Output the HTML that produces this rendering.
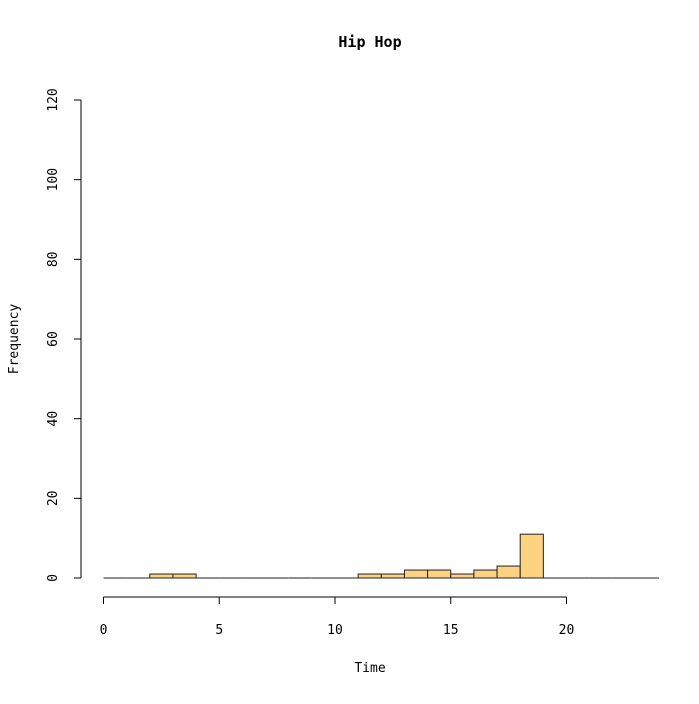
<!DOCTYPE html>
<html><head><meta charset="utf-8"><style>
html,body{margin:0;padding:0;background:#fff;}
svg text{font-family:"DejaVu Sans Mono","Liberation Mono",monospace;fill:#000;}
</style></head><body>
<svg id="chart" width="699" height="699" viewBox="0 0 699 699" xmlns="http://www.w3.org/2000/svg">
<text x="370" y="47" text-anchor="middle" font-size="15" font-weight="bold">Hip Hop</text>
<text x="370" y="672" text-anchor="middle" font-size="13">Time</text>
<text transform="translate(18,339) rotate(-90)" text-anchor="middle" font-size="13">Frequency</text>
<g id="bars"></g><g id="xaxis"></g><g id="yaxis"></g>
</svg>
<script>
const binStarts=[0,1,2,3,4,5,6,7,8,9,10,11,12,13,14,15,16,17,18,19,20,21,22,23];
const counts=[0,0,1,1,0,0,0,0,0,0,0,1,1,2,2,1,2,3,11,0,0,0,0,0];
const xTicks=[0,5,10,15,20];
const yTicks=[0,20,40,60,80,100,120];
const NS="http://www.w3.org/2000/svg";
function xs(v){return 103.5+v*(566.5-103.5)/20;}
function ys(v){return 578-v*(578-100)/120;}
function mk(t,a,p){const e=document.createElementNS(NS,t);for(const k in a)e.setAttribute(k,a[k]);p.appendChild(e);return e;}
const bars=document.getElementById('bars');
binStarts.forEach((s,i)=>{
 let r;
 if(counts[i]===0){
  r=mk('line',{x1:xs(s),x2:xs(s+1),y1:ys(0),y2:ys(0),stroke:'#222','stroke-width':1},bars);
 } else {
  r=mk('rect',{x:xs(s),y:ys(counts[i]),width:xs(s+1)-xs(s),height:ys(0)-ys(counts[i]),fill:'#fdd281',stroke:'#222','stroke-width':1},bars);
 }
 
 
});
const xa=document.getElementById('xaxis');
const xl=mk('line',{x1:xs(xTicks[0]),x2:xs(xTicks[xTicks.length-1]),y1:597,y2:597,stroke:'#000'},xa);


xTicks.forEach(t=>{
 mk('line',{x1:xs(t),x2:xs(t),y1:597,y2:604,stroke:'#000'},xa);
 const tx=mk('text',{x:xs(t),y:634,'text-anchor':'middle','font-size':13},xa);
 tx.textContent=t;
 
 
});
const ya=document.getElementById('yaxis');
const yl=mk('line',{x1:81,x2:81,y1:ys(yTicks[0]),y2:ys(yTicks[yTicks.length-1]),stroke:'#000'},ya);


yTicks.forEach(t=>{
 mk('line',{x1:74,x2:81,y1:ys(t),y2:ys(t),stroke:'#000'},ya);
 const tx=mk('text',{transform:'translate(57,'+ys(t)+') rotate(-90)','text-anchor':'middle','font-size':13},ya);
 tx.textContent=t;
 
 
});
</script>
</body></html>
